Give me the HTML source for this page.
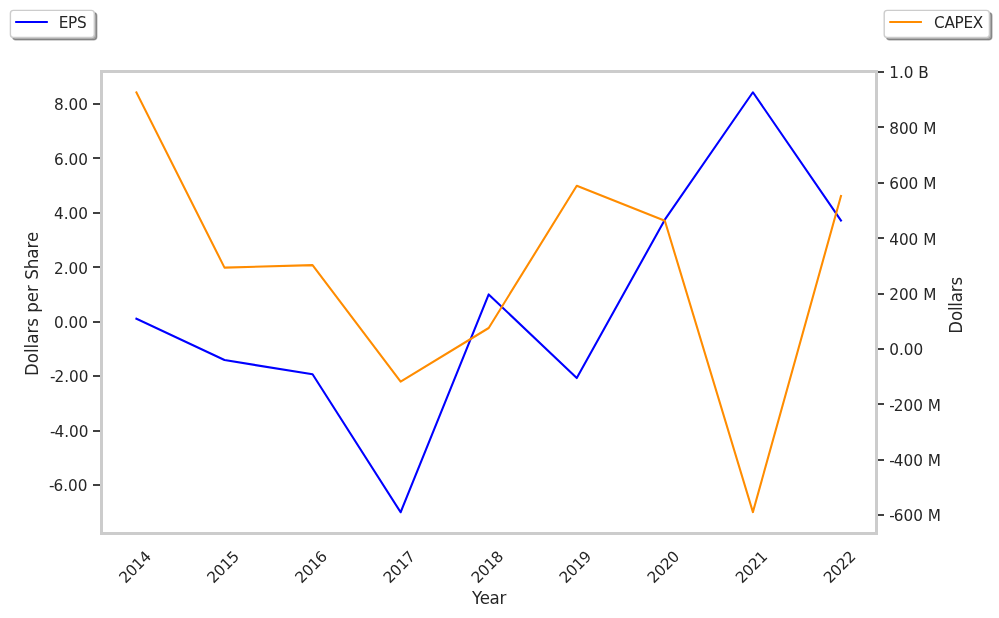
<!DOCTYPE html>
<html lang="en"><head><meta charset="utf-8"><title>EPS and CAPEX by Year</title>
<style>
html,body{margin:0;padding:0;background:#fff;}
body{width:999px;height:618px;overflow:hidden;}
svg{display:block;}
text{font-family:"DejaVu Sans","Liberation Sans",sans-serif;fill:#262626;}
.tk{font-size:15.28px;}
.lb{font-size:16.67px;}
.lg{font-size:15.28px;}
</style></head><body>
<svg width="999" height="618" viewBox="0 0 999 618">
<rect x="0" y="0" width="999" height="618" fill="#ffffff"/>
<g fill="none" stroke-width="2.08" stroke-linejoin="round" stroke-linecap="square">
<polyline points="136.43,318.70 224.50,360.05 312.56,374.30 400.63,512.25 488.70,294.40 576.77,378.10 664.84,219.70 752.90,92.25 840.97,220.50" stroke="#0000ff"/>
<polyline points="136.43,92.50 224.50,267.60 312.56,265.10 400.63,381.70 488.70,328.00 576.77,185.80 664.84,220.70 752.90,512.10 840.97,196.00" stroke="#ff8c00"/>
</g>
<g fill="#262626">
<rect x="93" y="103.13" width="8.5" height="1.74"/>
<rect x="93" y="157.13" width="8.5" height="1.74"/>
<rect x="93" y="212.13" width="8.5" height="1.74"/>
<rect x="93" y="266.13" width="8.5" height="1.74"/>
<rect x="93" y="321.13" width="8.5" height="1.74"/>
<rect x="93" y="375.13" width="8.5" height="1.74"/>
<rect x="93" y="430.13" width="8.5" height="1.74"/>
<rect x="93" y="484.13" width="8.5" height="1.74"/>
<rect x="876.5" y="71.13" width="7.5" height="1.74"/>
<rect x="876.5" y="126.13" width="7.5" height="1.74"/>
<rect x="876.5" y="182.13" width="7.5" height="1.74"/>
<rect x="876.5" y="237.13" width="7.5" height="1.74"/>
<rect x="876.5" y="293.13" width="7.5" height="1.74"/>
<rect x="876.5" y="348.13" width="7.5" height="1.74"/>
<rect x="876.5" y="403.13" width="7.5" height="1.74"/>
<rect x="876.5" y="459.13" width="7.5" height="1.74"/>
<rect x="876.5" y="514.13" width="7.5" height="1.74"/>
</g>
<rect x="101.5" y="71.5" width="775.0" height="462.0" fill="none" stroke="#cccccc" stroke-width="3"/>
<g class="tk">
<text x="88.0" y="110" text-anchor="end">8.00</text>
<text x="88.0" y="165" text-anchor="end">6.00</text>
<text x="88.0" y="219" text-anchor="end">4.00</text>
<text x="88.0" y="274" text-anchor="end">2.00</text>
<text x="88.0" y="328" text-anchor="end">0.00</text>
<text x="88.5" y="382" text-anchor="end" dx="0 -1">-2.00</text>
<text x="88.5" y="437" text-anchor="end" dx="0 -1">-4.00</text>
<text x="87.5" y="491" text-anchor="end" dx="0 -1">-6.00</text>
<text x="889.2" y="78">1.0 B</text>
<text x="889.2" y="134">800 M</text>
<text x="889.2" y="189">600 M</text>
<text x="889.2" y="245">400 M</text>
<text x="889.2" y="300">200 M</text>
<text x="889.2" y="355">0.00</text>
<text x="889.2" y="411" dx="0 -1">-200 M</text>
<text x="889.2" y="466" dx="0 -1">-400 M</text>
<text x="889.2" y="521" dx="0 -1">-600 M</text>
<text transform="translate(134.63,566.9) rotate(-45)" text-anchor="middle" dy="5.57" letter-spacing="-0.43">2014</text>
<text transform="translate(222.70,566.9) rotate(-45)" text-anchor="middle" dy="5.57" letter-spacing="-0.43">2015</text>
<text transform="translate(310.76,566.9) rotate(-45)" text-anchor="middle" dy="5.57" letter-spacing="-0.43">2016</text>
<text transform="translate(398.83,566.9) rotate(-45)" text-anchor="middle" dy="5.57" letter-spacing="-0.43">2017</text>
<text transform="translate(486.90,566.9) rotate(-45)" text-anchor="middle" dy="5.57" letter-spacing="-0.43">2018</text>
<text transform="translate(574.97,566.9) rotate(-45)" text-anchor="middle" dy="5.57" letter-spacing="-0.43">2019</text>
<text transform="translate(663.04,566.9) rotate(-45)" text-anchor="middle" dy="5.57" letter-spacing="-0.43">2020</text>
<text transform="translate(751.10,566.9) rotate(-45)" text-anchor="middle" dy="5.57" letter-spacing="-0.43">2021</text>
<text transform="translate(839.17,566.9) rotate(-45)" text-anchor="middle" dy="5.57" letter-spacing="-0.43">2022</text>
</g>
<g class="lb" text-anchor="middle">
<text transform="translate(489.0,603.6) scale(1,1.08)" letter-spacing="-0.3">Year</text>
<text transform="translate(38.1,303.9) rotate(-90) scale(1,1.08)" letter-spacing="0">Dollars per Share</text>
<text transform="translate(962.2,305.4) rotate(-90) scale(1,1.08)" letter-spacing="-0.2">Dollars</text>
</g>
<rect x="12.80" y="12.80" width="83.90" height="27.10" rx="3.06" ry="3.06" fill="#4c4c4c" fill-opacity="0.5" stroke="#4c4c4c" stroke-opacity="0.5" stroke-width="1.39"/>
<rect x="10.40" y="10.40" width="83.90" height="27.10" rx="3.06" ry="3.06" fill="#ffffff" stroke="#cccccc" stroke-width="1.39"/>
<line x1="16.20" y1="22.00" x2="46.80" y2="22.00" stroke="#0000ff" stroke-width="2.08" stroke-linecap="square"/>
<text class="lg" x="58.70" y="28.00" letter-spacing="-0.3">EPS</text>
<rect x="886.60" y="12.80" width="105.20" height="27.10" rx="3.06" ry="3.06" fill="#4c4c4c" fill-opacity="0.5" stroke="#4c4c4c" stroke-opacity="0.5" stroke-width="1.39"/>
<rect x="884.20" y="10.40" width="105.20" height="27.10" rx="3.06" ry="3.06" fill="#ffffff" stroke="#cccccc" stroke-width="1.39"/>
<line x1="890.30" y1="22.00" x2="920.90" y2="22.00" stroke="#ff8c00" stroke-width="2.08" stroke-linecap="square"/>
<text class="lg" x="934.10" y="28.00" letter-spacing="-0.32">CAPEX</text>
</svg>
</body></html>
